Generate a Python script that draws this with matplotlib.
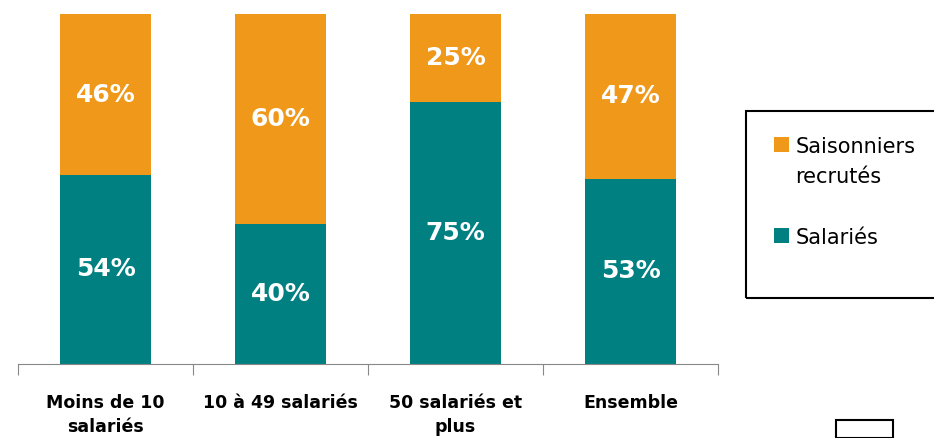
import matplotlib.pyplot as plt
import numpy as np
from matplotlib.patches import Rectangle

# Categories and shares (percent)
categories = ["Moins de 10\nsalariés", "10 à 49 salariés", "50 salariés et\nplus", "Ensemble"]
salaries = [54, 40, 75, 53]
saisonniers = [46, 60, 25, 47]

teal = "#008080"
orange = "#F0981A"

W, H = 934, 438
fig = plt.figure(figsize=(W / 100, H / 100), dpi=100)
ax = fig.add_axes([18 / W, 1 - 364 / H, 700 / W, 350 / H])

x = np.arange(len(categories))
b1 = ax.bar(x, salaries, width=0.525, color=teal, label="Salariés")
b2 = ax.bar(x, saisonniers, width=0.525, bottom=salaries, color=orange,
            label="Saisonniers\nrecrutés")

for i in range(len(categories)):
    ax.text(x[i], salaries[i] / 2, "%d%%" % salaries[i], ha="center", va="center",
            color="white", fontsize=18, fontweight="bold")
    ax.text(x[i], salaries[i] + saisonniers[i] / 2, "%d%%" % saisonniers[i],
            ha="center", va="center", color="white", fontsize=18, fontweight="bold")

ax.set_xlim(-0.5, len(categories) - 0.5)
ax.set_ylim(0, 100)
for s in ["top", "right", "left"]:
    ax.spines[s].set_visible(False)
ax.spines["bottom"].set_color("#888888")
ax.set_yticks([])
ax.set_xticks(np.arange(len(categories) + 1) - 0.5, minor=False)
ax.set_xticklabels([])
ax.tick_params(axis="x", length=8, color="#888888")
for i, c in enumerate(categories):
    ax.text(x[i], -8.5, c, ha="center", va="top", fontsize=12.5, fontweight="bold",
            linespacing=1.45)

# legend
fig.patches.append(Rectangle((746 / W, 1 - 298 / H), 200 / W, 187 / H,
                             transform=fig.transFigure, fill=False,
                             edgecolor="black", linewidth=1.5))
leg = fig.legend([b2, b1], ["Saisonniers\nrecrutés", "Salariés"], loc="upper left",
                 bbox_to_anchor=(774 / W, 1 - 137 / H), frameon=False, fontsize=15,
                 handlelength=0.72, handleheight=0.72, handletextpad=0.3,
                 labelspacing=2.0, borderpad=0, borderaxespad=0)
for t in leg.get_texts():
    t.set_linespacing(1.6)
# put the square next to the first line of each label
for col in leg._legend_handle_box.get_children():
    for row in col.get_children():
        row.align = "top"

# small box at bottom right
fig.patches.append(Rectangle((836 / W, 0), 57 / W, 18 / H, transform=fig.transFigure,
                             fill=False, edgecolor="black", linewidth=1.5))

fig.savefig("out.png", dpi=100)
